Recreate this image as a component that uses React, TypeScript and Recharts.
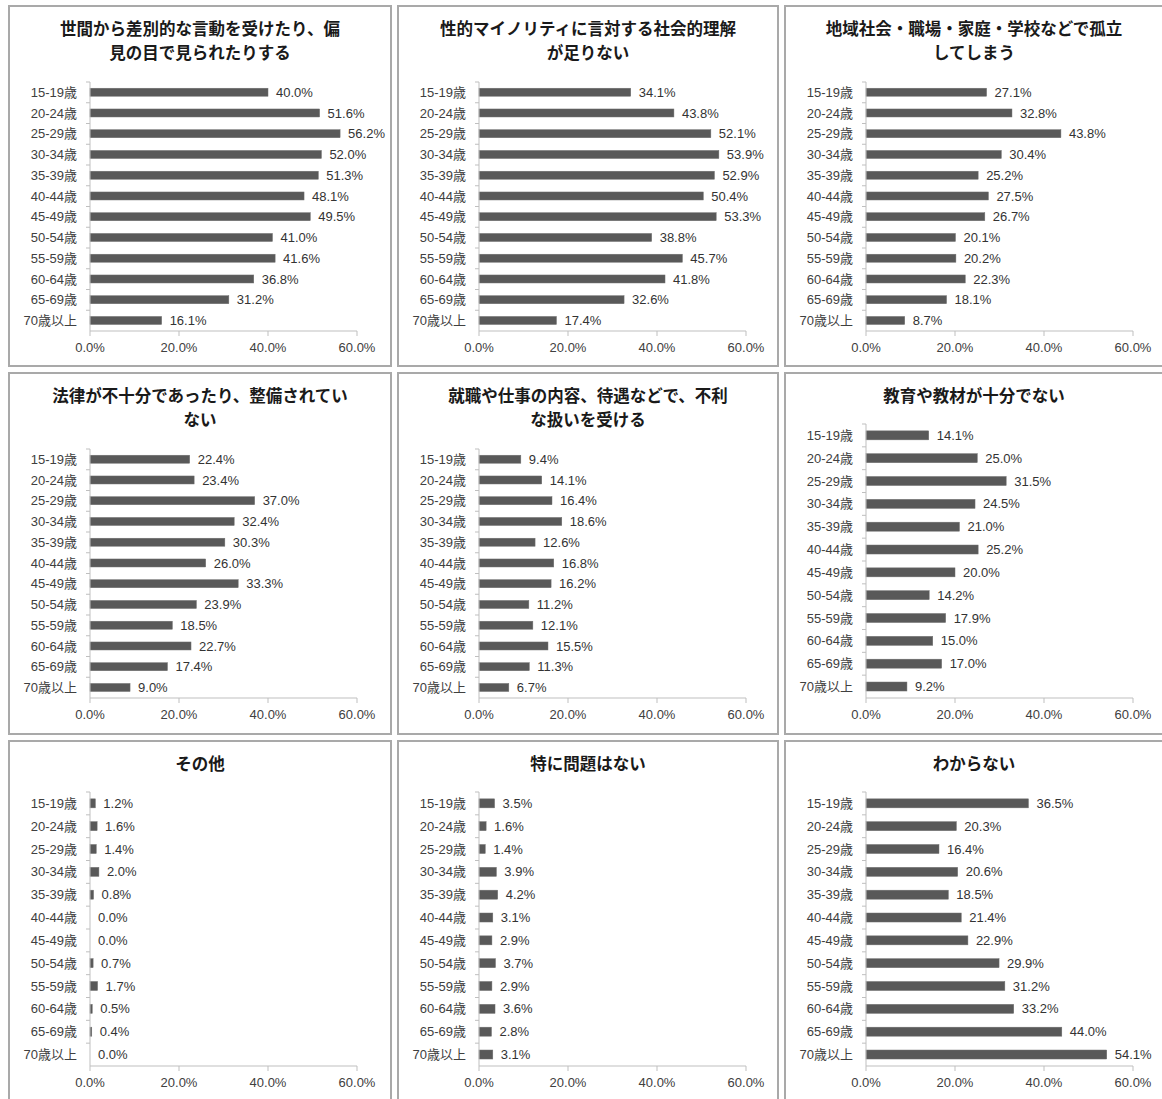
import React from 'react';
import { BarChart, Bar, XAxis, YAxis, LabelList } from 'recharts';

const AGES = ['15-19歳', '20-24歳', '25-29歳', '30-34歳', '35-39歳', '40-44歳', '45-49歳', '50-54歳', '55-59歳', '60-64歳', '65-69歳', '70歳以上'];
const X_TICKS = [0, 20, 40, 60];

const V_PREJUDICE = [40.0, 51.6, 56.2, 52.0, 51.3, 48.1, 49.5, 41.0, 41.6, 36.8, 31.2, 16.1];
const V_UNDERSTANDING = [34.1, 43.8, 52.1, 53.9, 52.9, 50.4, 53.3, 38.8, 45.7, 41.8, 32.6, 17.4];
const V_ISOLATION = [27.1, 32.8, 43.8, 30.4, 25.2, 27.5, 26.7, 20.1, 20.2, 22.3, 18.1, 8.7];
const V_LAW = [22.4, 23.4, 37.0, 32.4, 30.3, 26.0, 33.3, 23.9, 18.5, 22.7, 17.4, 9.0];
const V_WORK = [9.4, 14.1, 16.4, 18.6, 12.6, 16.8, 16.2, 11.2, 12.1, 15.5, 11.3, 6.7];
const V_EDUCATION = [14.1, 25.0, 31.5, 24.5, 21.0, 25.2, 20.0, 14.2, 17.9, 15.0, 17.0, 9.2];
const V_OTHER = [1.2, 1.6, 1.4, 2.0, 0.8, 0.0, 0.0, 0.7, 1.7, 0.5, 0.4, 0.0];
const V_NOPROBLEM = [3.5, 1.6, 1.4, 3.9, 4.2, 3.1, 2.9, 3.7, 2.9, 3.6, 2.8, 3.1];
const V_UNKNOWN = [36.5, 20.3, 16.4, 20.6, 18.5, 21.4, 22.9, 29.9, 31.2, 33.2, 44.0, 54.1];

const T_PREJUDICE = ['世間から差別的な言動を受けたり、偏', '見の目で見られたりする'];
const T_UNDERSTANDING = ['性的マイノリティに言対する社会的理解', 'が足りない'];
const T_ISOLATION = ['地域社会・職場・家庭・学校などで孤立', 'してしまう'];
const T_LAW = ['法律が不十分であったり、整備されてい', 'ない'];
const T_WORK = ['就職や仕事の内容、待遇などで、不利', 'な扱いを受ける'];
const T_EDUCATION = ['教育や教材が十分でない'];
const T_OTHER = ['その他'];
const T_NOPROBLEM = ['特に問題はない'];
const T_UNKNOWN = ['わからない'];

const SERIES = [
  { title: T_PREJUDICE, values: V_PREJUDICE },
  { title: T_UNDERSTANDING, values: V_UNDERSTANDING },
  { title: T_ISOLATION, values: V_ISOLATION },
  { title: T_LAW, values: V_LAW },
  { title: T_WORK, values: V_WORK },
  { title: T_EDUCATION, values: V_EDUCATION },
  { title: T_OTHER, values: V_OTHER },
  { title: T_NOPROBLEM, values: V_NOPROBLEM },
  { title: T_UNKNOWN, values: V_UNKNOWN },
];

// layout
const COL_LEFT = [8, 397, 784];
const COL_WIDTH = [384, 382, 380];
const ROW_TOP = [5, 372, 740];
const ROW_HEIGHT = [362, 363, 362];

const FONT = "'Liberation Sans', 'Noto Sans CJK JP', sans-serif";
const TITLE_FONT = "'Noto Sans CJK JP', sans-serif";
const AXIS_COLOR = '#bfbfbf';
const TEXT_COLOR = '#404040';

const PLOT_LEFT = 82;
const PLOT_RIGHT = 349;
const PLOT_BOTTOM = 326;
const CHART_H = 360;
const XAXIS_H = 30;

const YTick = (props: any) => {
  const { x, y, payload, band } = props;
  const ax = x + 13;
  return (
    <g>
      <line x1={ax - 4} x2={ax} y1={y - band / 2} y2={y - band / 2} stroke={AXIS_COLOR} />
      <text x={x} y={y} dy={4.5} textAnchor="end" fill={TEXT_COLOR} fontSize={13} fontFamily={FONT}>
        {payload.value}
      </text>
    </g>
  );
};

const BarShape = (props: any) => {
  const { x, y, width, height, value } = props;
  const v = Array.isArray(value) ? value[1] - value[0] : value;
  if (!v || width < 0.5) return <g />;
  return <rect x={x} y={y} width={width} height={height} fill="#595959" stroke="#6e6e6e" strokeWidth={0.5} />;
};

const Panel = ({ idx }: { idx: number }) => {
  const s = SERIES[idx];
  const col = idx % 3;
  const row = Math.floor(idx / 3);
  const W = COL_WIDTH[col];
  const H = ROW_HEIGHT[row];
  const plotTop = s.title.length > 1 ? 77 : 52;
  const band = (PLOT_BOTTOM - plotTop) / AGES.length;
  const data = AGES.map((a, i) => ({ age: a, value: s.values[i] }));
  return (
    <div style={{ position: 'absolute', left: COL_LEFT[col], top: ROW_TOP[row], width: W, height: H }}>
      <div
        style={{
          position: 'absolute', left: 0, top: 0, width: W, height: H,
          boxSizing: 'border-box', border: '2px solid #a9a9a9', background: '#fff',
        }}
      />
      <div
        style={{
          position: 'absolute', left: 0, top: 11, width: W, textAlign: 'center',
          fontFamily: TITLE_FONT, fontWeight: 'bold', fontSize: 16.5, lineHeight: '24px', color: '#1a1a1a',
        }}
      >
        {s.title.map((t, i) => (
          <div key={i}>{t}</div>
        ))}
      </div>
      <div style={{ position: 'absolute', left: 0, top: 0 }}>
        <BarChart
          width={W}
          height={CHART_H}
          data={data}
          layout="vertical"
          barCategoryGap="30%"
          margin={{ top: plotTop, right: W - PLOT_RIGHT, bottom: CHART_H - PLOT_BOTTOM - XAXIS_H, left: 0 }}
          style={{ overflow: 'visible' }}
        >
          <XAxis
            type="number"
            domain={[0, 60]}
            ticks={X_TICKS}
            height={XAXIS_H}
            tickFormatter={(v: number) => v.toFixed(1) + '%'}
            axisLine={{ stroke: AXIS_COLOR }}
            tickLine={{ stroke: AXIS_COLOR }}
            tickSize={5}
            tickMargin={7}
            tick={{ fill: TEXT_COLOR, fontSize: 13, fontFamily: FONT }}
            interval={0}
          />
          <YAxis
            type="category"
            dataKey="age"
            width={PLOT_LEFT}
            interval={0}
            axisLine={{ stroke: AXIS_COLOR }}
            tickLine={false}
            tickSize={0}
            tickMargin={13}
            tick={<YTick band={band} />}
          />
          <Bar dataKey="value" fill="#595959" minPointSize={0.01} shape={<BarShape />} isAnimationActive={false}>
            <LabelList
              dataKey="value"
              position="right"
              offset={8}
              formatter={(v: number) => Number(v).toFixed(1) + '%'}
              fill="#333"
              fontSize={13}
              fontFamily={FONT}
            />
          </Bar>
        </BarChart>
      </div>
    </div>
  );
};

export default function App() {
  return (
    <div style={{ position: 'absolute', left: 0, top: 0, width: 1162, height: 1099, overflow: 'hidden', background: '#fff' }}>
      {SERIES.map((_, i) => (
        <Panel key={i} idx={i} />
      ))}
    </div>
  );
}
